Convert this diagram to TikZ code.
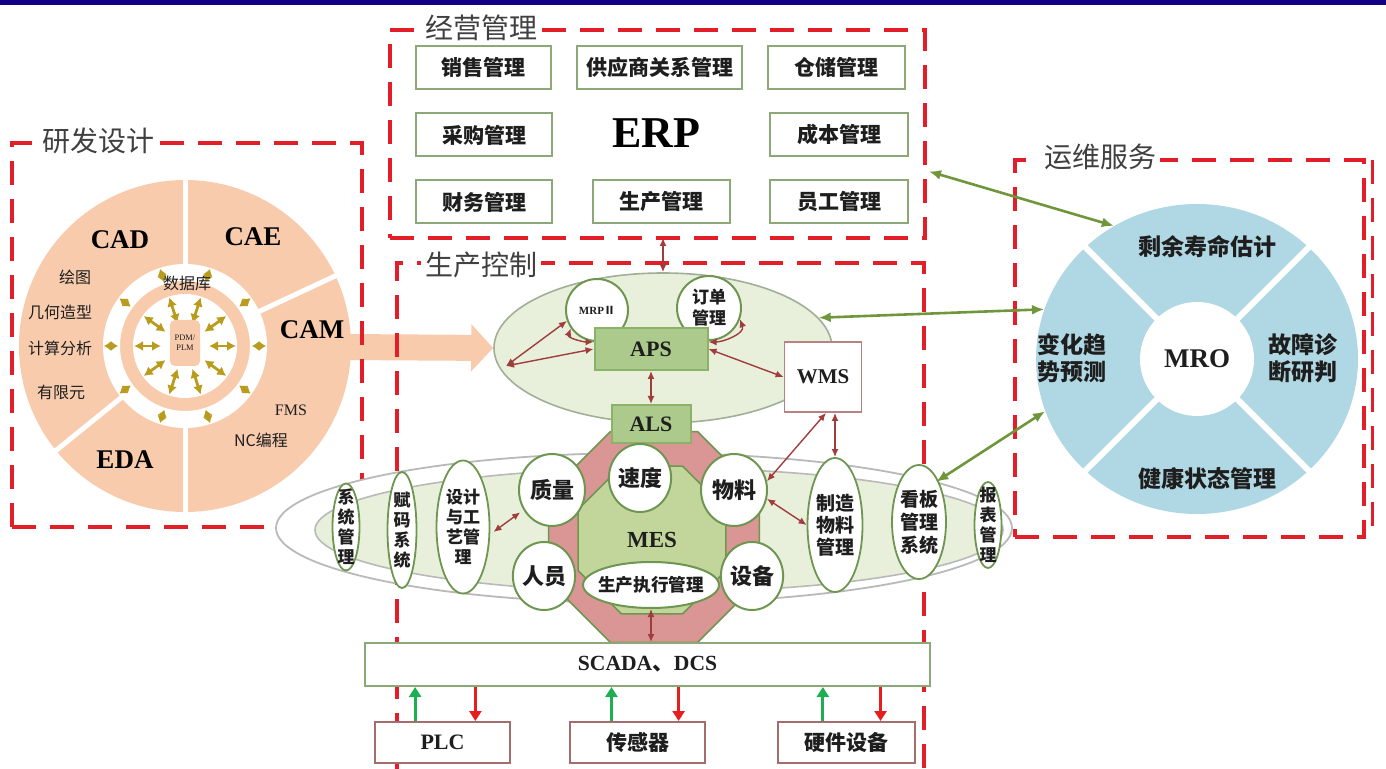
\documentclass[tikz,border=0pt]{standalone}
\usepackage{fontspec}
\setmainfont{Liberation Serif}
\newfontfamily\cjk{Noto Sans CJK SC}
\usetikzlibrary{shapes.geometric,arrows.meta,calc}
\definecolor{navybar}{RGB}{20,0,130}
\definecolor{dashred}{RGB}{226,30,40}
\definecolor{peach}{RGB}{248,203,173}
\definecolor{goldarr}{RGB}{185,155,30}
\definecolor{boxgreen}{RGB}{140,168,118}
\definecolor{ellline}{RGB}{160,175,150}
\definecolor{lgreen}{RGB}{232,240,220}
\definecolor{mgreen}{RGB}{194,214,155}
\definecolor{apsgreen}{RGB}{172,202,140}
\definecolor{apsline}{RGB}{140,178,105}
\definecolor{pinkred}{RGB}{217,150,148}
\definecolor{circline}{RGB}{110,150,80}
\definecolor{brownred}{RGB}{160,60,60}
\definecolor{wmsline}{RGB}{185,130,130}
\definecolor{botline}{RGB}{165,110,110}
\definecolor{mroblue}{RGB}{176,216,228}
\definecolor{arrgreen}{RGB}{112,150,60}
\definecolor{txt}{RGB}{30,30,30}
\definecolor{ttl}{RGB}{64,64,64}
\definecolor{upgreen}{RGB}{30,176,80}
\definecolor{downred}{RGB}{230,30,30}
\tikzset{
  zone/.style={draw=dashred, line width=2pt, dash pattern=on 12pt off 7pt, rectangle, inner sep=0pt, outer sep=0pt, anchor=north west},
  zonetitle/.style={fill=white, text=ttl, font=\cjk\fontsize{14}{16}\selectfont, inner sep=2pt, anchor=west},
  erpbox/.style={draw=boxgreen, line width=1pt, fill=white, minimum height=21.5pt, inner sep=1pt, font=\cjk\bfseries\fontsize{10.5}{12}\selectfont, text=txt},
  bigserif/.style={font=\bfseries\fontsize{13.5}{15}\selectfont, text=black},
  smallcjk/.style={font=\cjk\fontsize{8}{9}\selectfont, text=txt},
  goldtip/.style={draw=goldarr, line width=1.4pt, {Latex[length=4.5pt,width=5pt]}-{Latex[length=4.5pt,width=5pt]}},
  goldshort/.style={draw=goldarr, line width=1.4pt, {Latex[length=3.5pt,width=5pt]}-{Latex[length=3.5pt,width=5pt]}},
  wcirc/.style={ellipse, draw=circline, line width=1pt, fill=white, inner sep=0pt, font=\cjk\bfseries\fontsize{11}{13}\selectfont, text=txt},
  vell/.style={ellipse, draw=circline, line width=0.9pt, fill=white, inner sep=0pt},
  vtext/.style={align=center, inner sep=0pt, font=\cjk\bfseries\fontsize{8.5}{10}\selectfont, text=txt},
  gbox/.style={draw=apsline, line width=1pt, fill=apsgreen, font=\bfseries\fontsize{11}{12}\selectfont, text=txt},
  brarr/.style={draw=brownred, line width=0.7pt, {Latex[length=4pt,width=3.5pt]}-{Latex[length=4pt,width=3.5pt]}},
  grarr/.style={draw=arrgreen, line width=1.3pt, {Latex[length=6pt,width=5pt]}-{Latex[length=6pt,width=5pt]}},
  botbox/.style={draw=botline, line width=1pt, fill=white, minimum width=67.5pt, minimum height=20.5pt, text=txt},
  uparr/.style={draw=upgreen, line width=1.5pt, -{Triangle[length=5pt,width=6pt]}},
  dnarr/.style={draw=downred, line width=1.5pt, -{Triangle[length=5pt,width=6pt]}},
  mrolab/.style={font=\cjk\bfseries\fontsize{11.5}{13.5}\selectfont, text=txt, align=center},
}
\begin{document}
\begin{tikzpicture}[x=0.5pt,y=-0.5pt]
\useasboundingbox (0,0) rectangle (1386,769);
\fill[navybar] (0,0) rectangle (1386,5);

% ---------------- R&D wheel
\coordinate (wc) at (185,346);
\fill[peach] (wc) circle (83pt);
\foreach \a in {90,25,219,270} \draw[white, line width=2.5pt] (wc) ++(\a:40pt) -- ++(\a:45pt);
\fill[white, even odd rule] (wc) circle (41pt) circle (32.5pt);
\fill[white] (wc) circle (26pt);
\foreach \a in {0,36,...,324} {
  \draw[goldtip] (wc) ++(\a:12pt) -- ++(\a:13.5pt);
  \draw[goldshort] (wc) ++(\a:33.5pt) -- ++(\a:7pt);
}
\node[fill=peach, rounded corners=2.5pt, minimum width=15pt, minimum height=23pt, inner sep=0pt, font=\fontsize{4.2}{5}\selectfont, text=txt, align=center] (pdm) at (185,343) {PDM/\\PLM};

% ---------------- APS ellipse and peach arrow
\node[ellipse, draw=ellline, line width=0.8pt, fill=lgreen, minimum width=169pt, minimum height=75pt, inner sep=0pt] (apsell) at (663,348) {};
\coordinate (camtail) at (342,347);
\draw[peach, line width=13pt, -{Triangle[length=11pt,width=23pt]}] (camtail) -- (apsell.west);

\node[smallcjk] (sjk) at (187,283) {数据库};
\node[bigserif] (cad) at (120,240) {CAD};
\node[bigserif] (cae) at (253,237) {CAE};
\node[bigserif] (cam) at (312,330) {CAM};
\node[bigserif] (eda) at (125,460) {EDA};
\node[smallcjk] (ht) at (75,277) {绘图};
\node[smallcjk] (jh) at (60,312) {几何造型};
\node[smallcjk] (js) at (60,348) {计算分析};
\node[smallcjk] (yx) at (61,392) {有限元};
\node[font=\fontsize{8}{9}\selectfont, text=txt] (fms) at (291,410) {FMS};
\node[smallcjk] (nc) at (261,440) {NC编程};

% ---------------- zones
\node[zone, minimum width=175pt, minimum height=192pt] (zrd) at (12,143) {};
\node[zone, minimum width=267.5pt, minimum height=104pt] (zerp) at (390,30) {};
\node[zone, minimum width=263.5pt, minimum height=255pt] (zpc) at (397,263) {};
\node[zone, minimum width=174.5pt, minimum height=188.5pt] (zops) at (1015,160) {};
\draw[dashred, line width=1.5pt, dash pattern=on 12pt off 7pt] ($(zops.north east)+(8,0)$) -- ($(zops.south east)+(8,0)$);
\node[zonetitle] (trd) at (38,141) {研发设计};
\node[zonetitle] (terp) at (421,28) {经营管理};
\node[zonetitle] (tpc) at (421,265) {生产控制};
\node[zonetitle] (tops) at (1040,157) {运维服务};

% ---------------- ERP
\node[erpbox, minimum width=67.5pt] (xs) at (483.5,67.5) {销售管理};
\node[erpbox, minimum width=82.5pt] (gy) at (659.5,67.5) {供应商关系管理};
\node[erpbox, minimum width=68.5pt] (cc) at (836.5,67.5) {仓储管理};
\node[erpbox, minimum width=68pt] (cg) at (484,135) {采购管理};
\node[font=\bfseries\fontsize{22}{24}\selectfont, text=black] (erp) at (656,133) {ERP};
\node[erpbox, minimum width=69pt] (cb) at (839,135) {成本管理};
\node[erpbox, minimum width=68pt] (cw) at (484,202) {财务管理};
\node[erpbox, minimum width=68.5pt] (sc) at (661.5,202) {生产管理};
\node[erpbox, minimum width=69pt] (yg) at (839,202) {员工管理};

% ---------------- APS group
\node[wcirc, minimum size=31pt, font=\bfseries\fontsize{5.5}{6}\selectfont] (mrp) at (597,310) {MRP{\cjk Ⅱ}};
\node[wcirc, minimum size=32pt, align=center, font=\cjk\bfseries\fontsize{8.5}{10.5}\selectfont] (dd) at (709,308) {订单\\管理};
\node[gbox, minimum width=56.5pt, minimum height=21pt] (aps) at (651,349) {APS};
\node[draw=wmsline, line width=0.9pt, fill=white, minimum width=38.5pt, minimum height=35pt, font=\bfseries\fontsize{10.5}{12}\selectfont, text=txt] (wms) at (823,377) {WMS};

% ---------------- MES group
\node[ellipse, draw=gray!55, line width=0.9pt, fill=white, minimum width=368pt, minimum height=75pt, inner sep=0pt] (mesout) at (644,528) {};
\node[ellipse, draw=gray!55, line width=0.8pt, fill=lgreen, minimum width=344pt, minimum height=62pt, inner sep=0pt] (mesin) at (659,530) {};
\node[regular polygon, regular polygon sides=8, minimum size=114pt, fill=pinkred, draw=circline, line width=0.8pt, inner sep=0pt] (oct) at (654,537) {};
\node[regular polygon, regular polygon sides=8, minimum size=80pt, fill=mgreen, draw=circline, line width=0.8pt, inner sep=0pt, font=\bfseries\fontsize{11.5}{13}\selectfont, text=txt] (mes) at (652,540) {MES};
\node[gbox, minimum width=39.5pt, minimum height=19pt] (als) at (651,424) {ALS};
\node[wcirc, minimum width=31pt, minimum height=34pt] (sd) at (640,478) {速度};
\node[wcirc, minimum width=33pt, minimum height=36pt] (zl) at (552,490) {质量};
\node[wcirc, minimum width=33pt, minimum height=36pt] (wl) at (734,490) {物料};
\node[wcirc, minimum width=29pt, minimum height=34pt] (ry) at (544,576) {人员};
\node[wcirc, minimum width=30pt, minimum height=34pt] (sb) at (752,576) {设备};
\node[wcirc, minimum width=68pt, minimum height=23pt] (zx) at (651,585) {};
\node[vtext, font=\cjk\bfseries\fontsize{8.8}{10}\selectfont] at (zx) {生产执行管理};

\node[vell, minimum width=13.5pt, minimum height=43.5pt] (xt) at (346,527) {};
\node[vtext] at (xt) {系\\统\\管\\理};
\node[vell, minimum width=14.5pt, minimum height=58pt] (fm) at (402,530) {};
\node[vtext] at (fm) {赋\\码\\系\\统};
\node[vell, minimum width=26.5pt, minimum height=66.5pt] (sj) at (463,527) {};
\node[vtext] at (sj) {设计\\与工\\艺管\\理};
\node[vell, minimum width=27.5pt, minimum height=67pt] (zz) at (835,525) {};
\node[vtext, font=\cjk\bfseries\fontsize{9.5}{11}\selectfont] at (zz) {制造\\物料\\管理};
\node[vell, minimum width=27pt, minimum height=57pt] (kb) at (919,522) {};
\node[vtext, font=\cjk\bfseries\fontsize{9.5}{11.5}\selectfont] at (kb) {看板\\管理\\系统};
\node[vell, minimum width=13.5pt, minimum height=43pt] (bb) at (988,525) {};
\node[vtext] at (bb) {报\\表\\管\\理};

% ---------------- SCADA and devices
\node[draw=boxgreen, line width=1pt, fill=white, minimum width=282.5pt, minimum height=21.5pt, font=\bfseries\fontsize{10.8}{12}\selectfont, text=txt] (scada) at (647.5,664.5) {SCADA{\cjk 、}DCS};
\node[botbox, font=\bfseries\fontsize{11}{12}\selectfont] (plc) at (442.5,742.5) {PLC};
\node[botbox, font=\cjk\bfseries\fontsize{10.5}{12}\selectfont] (cgq) at (637.5,742.5) {传感器};
\node[botbox, minimum width=68.5pt, font=\cjk\bfseries\fontsize{10.5}{12}\selectfont] (yj) at (846.5,742.5) {硬件设备};

\path ($(plc.north west)!0.30!(plc.north east)$) coordinate (plcg)
      ($(plc.north west)!0.74!(plc.north east)$) coordinate (plcr)
      ($(cgq.north west)!0.31!(cgq.north east)$) coordinate (cgqg)
      ($(cgq.north west)!0.80!(cgq.north east)$) coordinate (cgqr)
      ($(yj.north west)!0.33!(yj.north east)$) coordinate (yjg)
      ($(yj.north west)!0.745!(yj.north east)$) coordinate (yjr);
\foreach \n in {plc,cgq,yj} {
  \draw[uparr] (\n g) -- (\n g |- scada.south);
  \draw[dnarr] (\n r |- scada.south) -- (\n r);
}

% ---------------- MRO wheel
\node[ellipse, fill=mroblue, minimum width=161pt, minimum height=155pt, inner sep=0pt] (mro) at (1197,359) {};
\foreach \a in {45,135,225,315} \draw[white, line width=3pt] (mro.center) -- ($(mro.center)!1.05!(mro.\a)$);
\node[circle, fill=white, minimum size=57pt, inner sep=0pt, font=\bfseries\fontsize{13.5}{15}\selectfont, text=txt] (mrocore) at (mro.center) {MRO};
\node[mrolab] (syl) at (1207,247) {剩余寿命估计};
\node[mrolab] (gz) at (1303,358) {故障诊\\断研判};
\node[mrolab] (jk) at (1207,479) {健康状态管理};
\node[mrolab] (bh) at (1072,358) {变化趋\\势预测};

% ---------------- brown connectors
\draw[brarr] (zerp.south -| apsell.north) -- (apsell.north);
\draw[brarr] (aps.south) -- (als.north);
\coordinate (lj) at (506,366);
\draw[brarr] (lj) -- (mrp.200);
\draw[brarr] (lj) -- (aps.west);
\draw[brarr] (mrp.215) to[out=250,in=180] ($(aps.west)+(0,-7)$);
\draw[brarr] (dd.340) to[out=-70,in=0] ($(aps.east)+(0,-7)$);
\draw[brarr] (aps.east) -- (wms.west);
\draw[brarr] ($(wms.south)+(3,0)$) -- (wl.15);
\draw[brarr] (zz.north |- wms.south) -- (zz.north);
\draw[brarr] (wl.-15) -- (zz.west);
\draw[brarr, shorten <=2pt, shorten >=2pt] (sj.-15) -- (zl.215);
\draw[brarr] (zx.south) -- (zx.south |- scada.north);

% ---------------- green connectors
\path ($(zerp.north east)!0.68!(zerp.south east)$) coordinate (erpr);
\draw[grarr] ($(erpr)+(4,0)$) -- (mro.122);
\draw[grarr] (apsell.11) -- (mro.162);
\draw[grarr] (mesout.9) -- (mro.199);
\end{tikzpicture}
\end{document}
